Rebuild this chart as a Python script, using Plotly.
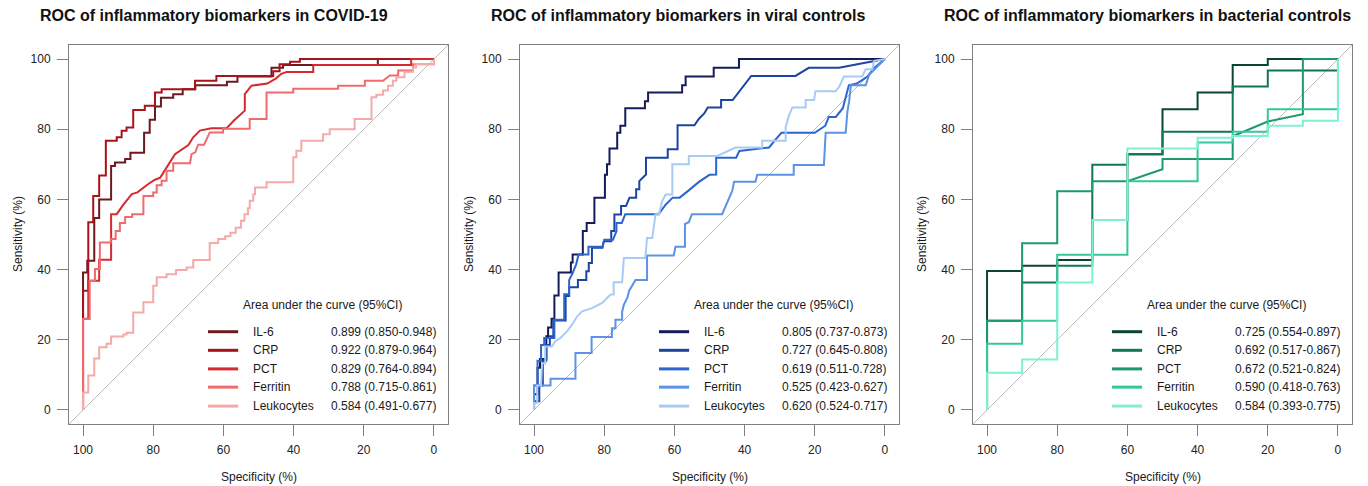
import plotly.graph_objects as go

# ---------------- data ----------------
MARKERS = ["IL-6", "CRP", "PCT", "Ferritin", "Leukocytes"]
TITLES = [
    "ROC of inflammatory biomarkers in COVID-19",
    "ROC of inflammatory biomarkers in viral controls",
    "ROC of inflammatory biomarkers in bacterial controls",
]
TICKS = [0, 20, 40, 60, 80, 100]
LEGEND_HEADER = "Area under the curve (95%CI)"

AUC_COVID = ["0.899 (0.850-0.948)", "0.922 (0.879-0.964)", "0.829 (0.764-0.894)",
             "0.788 (0.715-0.861)", "0.584 (0.491-0.677)"]
AUC_VIRAL = ["0.805 (0.737-0.873)", "0.727 (0.645-0.808)", "0.619 (0.511-0.728)",
             "0.525 (0.423-0.627)", "0.620 (0.524-0.717)"]
AUC_BACT = ["0.725 (0.554-0.897)", "0.692 (0.517-0.867)", "0.672 (0.521-0.824)",
            "0.590 (0.418-0.763)", "0.584 (0.393-0.775)"]

COLORS_COVID = ["#6b1a1f", "#a8121a", "#d62a30", "#ef6b6d", "#f5a9a9"]
COLORS_VIRAL = ["#141d5a", "#1c45a0", "#2b66cf", "#5c93e5", "#a8cbf5"]
COLORS_BACT = ["#0c4630", "#137653", "#1c9a6c", "#35c79a", "#80f0d4"]

# (specificity %, sensitivity %) vertices of each ROC curve
COVID_IL6 = [(100, 0), (100, 39.2), (98.8, 39.2), (98.8, 42.5), (96.8, 42.5), (96.8, 54.7), (95.4, 54.7),
             (95.4, 60), (92, 60), (92, 69.5), (90.9, 69.5), (90.9, 70.5), (88, 70.5), (88, 71.5),
             (86.5, 71.5), (86.5, 73.3), (82.6, 73.3), (82.6, 79), (81, 79), (81, 82.7), (79.5, 82.7),
             (79.5, 86.5), (77.8, 86.5), (77.8, 89), (74.3, 89), (74.3, 90), (71.6, 90), (71.6, 91.4),
             (68, 91.4), (68, 92.5), (59, 92.5), (59, 93.5), (56, 93.5), (56, 95), (46.3, 95),
             (46.3, 97.5), (43, 97.5), (43, 98.3), (16, 98.3), (16, 100), (0, 100)]
COVID_CRP = [(100, 0), (100, 34), (98.5, 34), (98.5, 53.5), (97.1, 53.5), (97.1, 61), (95.4, 61),
             (95.4, 66.8), (93.5, 66.8), (93.5, 76.7), (90.4, 76.7), (90.4, 77.7), (89, 77.7), (89, 79.6),
             (87.6, 79.6), (87.6, 80.5), (85.7, 80.5), (85.7, 85.5), (82.4, 85.5), (82.4, 86.7),
             (79.5, 86.7), (79.5, 90.5), (77.6, 90.5), (77.6, 91.4), (68.1, 91.4), (68.1, 93.8),
             (62, 93.8), (62, 95.2), (45.8, 95.2), (45.8, 96.5), (44, 96.5), (44, 98.5), (41, 98.5),
             (41, 99.2), (38.2, 99.2), (38.2, 100), (0, 100)]
COVID_PCT = [(100, 0), (100, 26), (98.5, 26), (98.5, 36.8), (95.4, 36.8), (95.4, 42.8), (92, 42.8),
             (92, 55.8), (90.4, 55.8), (88.5, 58.5), (86.1, 61.5), (84.5, 62), (81.4, 64.4), (79.5, 65.6),
             (78, 66.2), (73.8, 72.9), (70, 75.5), (68.6, 77.7), (66.7, 79.6), (63.4, 80.3), (59.1, 80.3),
             (57, 82.5), (53.9, 85.3), (53.9, 90), (52, 92.4), (47.5, 93), (45, 94.5), (43.5, 95.8),
             (42, 96.3), (34.4, 96.3), (34.4, 98.3), (6.5, 98.3), (6.5, 100), (0, 100)]
COVID_FER = [(100, 0), (100, 25.9), (98.1, 25.9), (98.1, 36.8), (96.6, 36.8), (96.6, 40.2), (95.2, 40.2),
             (95.2, 47.7), (92.1, 47.7), (92.1, 48.7), (90.7, 48.7), (90.7, 51), (89.5, 51), (89.5, 53.3),
             (88, 53.3), (88, 55), (86, 55), (86, 55.8), (82.8, 55.8), (82.8, 61), (80, 61), (80, 62),
             (79, 62), (79, 64), (77.6, 64), (77.6, 65.3), (76.2, 65.3), (76.2, 68.2), (74.3, 68.2),
             (74.3, 70.3), (69.5, 70.3), (69.1, 72.9), (68, 73.4), (67.2, 75.6), (65.5, 75.6),
             (63.9, 79.1), (60.1, 79.1), (60.1, 80.1), (52.5, 80.1), (52.5, 82.9), (47.7, 82.9),
             (47.7, 90.5), (40.1, 90.5), (40.1, 91.5), (27.3, 91.5), (27.3, 92.4), (19.7, 92.4),
             (19.7, 93.8), (14.5, 93.8), (12.6, 95.3), (10.2, 95.3), (10.2, 96.7), (6, 96.7), (6, 98.5),
             (0, 98.5), (0, 100)]
COVID_LEU = [(100, 0), (100, 5), (98.5, 5), (98.5, 9.8), (96.8, 9.8), (96.8, 14.7), (95.4, 14.7),
             (95.4, 17.9), (93.3, 17.9), (93.3, 18.9), (92, 18.9), (92, 20.9), (88.5, 20.9), (88.5, 21.5),
             (87.6, 21.5), (87.6, 22), (85.7, 22), (85.7, 27.8), (82.8, 27.8), (82.8, 30.7), (80, 30.7),
             (80, 35.4), (79, 35.4), (79, 37.8), (76.2, 37.8), (76.2, 38.7), (73.5, 38.7), (73.5, 39.9),
             (70.5, 39.9), (70.5, 40.6), (68.6, 40.6), (68.6, 42.7), (63.9, 42.7), (63.9, 47.6),
             (61.5, 47.6), (61.5, 48.7), (59.5, 48.7), (59.5, 49.5), (58, 49.5), (58, 50.5), (56.5, 50.5),
             (56.5, 51.9), (55, 51.9), (55, 53.9), (54, 53.9), (54, 55.8), (53, 55.8), (53, 57.5),
             (52.5, 57.5), (52.5, 59.6), (51.5, 59.6), (51.5, 61.5), (51, 61.5), (51, 63.4), (47.7, 63.4),
             (47.7, 64.9), (40.1, 64.9), (40.1, 72), (39.2, 72), (39.2, 73.9), (37.8, 73.9), (37.8, 76.7),
             (31.6, 76.7), (31.6, 78.6), (29.7, 78.6), (29.7, 80), (22.6, 80), (22.6, 82.9), (17.8, 82.9),
             (17.8, 89.1), (16.4, 89.1), (16.4, 89.8), (14.5, 89.8), (14.5, 91), (13.1, 91), (13.1, 92.4),
             (11.7, 92.4), (11.7, 93.8), (10.7, 93.8), (10.7, 94.8), (8.4, 94.8), (8.4, 96.4), (6, 96.4),
             (6, 97.6), (5.1, 97.6), (5.1, 98.6), (0, 98.6), (0, 100)]

VIR_IL6 = [(100, 0), (100, 4.5), (99, 4.5), (99, 12), (98.3, 12), (98.3, 14.5), (96.5, 14.5), (96.5, 21),
           (96, 21), (96, 23.5), (95, 23.5), (95, 26), (94.2, 26), (94.2, 32.6), (93, 32.6), (93, 39.2),
           (89.5, 39.2), (89.5, 42), (89, 42), (89, 44.3), (86.1, 44.3), (86.1, 51), (85, 51), (85, 53.3),
           (82.8, 53.3), (82.8, 60.5), (79.8, 60.5), (79.8, 67), (79.2, 67), (79.2, 70), (78.5, 70),
           (78.5, 74.5), (76.3, 74.5), (76.3, 79), (75.4, 79), (75.4, 81), (74, 81), (74, 86), (68.4, 86),
           (68.4, 88), (67.5, 88), (67.5, 90.5), (57.8, 90.5), (57.8, 92.5), (56.8, 92.5), (56.8, 95),
           (48.8, 95), (48.8, 97.5), (41.6, 97.5), (41.6, 100), (0, 100)]
VIR_CRP = [(100, 0), (100, 2.5), (98.5, 2.5), (98.5, 7), (97.5, 7), (97.5, 14), (96.5, 14), (96.5, 18.5),
           (95.5, 18.5), (95.5, 21), (94.5, 21), (94.5, 25.5), (91, 25.5), (91, 32.5), (90, 32.5), (90, 35),
           (87.5, 35), (87.5, 37), (85.1, 37), (85.1, 39.5), (84.4, 39.5), (84.4, 41.9), (83.5, 41.9),
           (83.5, 46.2), (80.5, 46.2), (80.1, 48.1), (78, 48.1), (78, 51), (77.1, 51), (77.1, 55.7),
           (75.2, 55.7), (75.2, 58.1), (73.8, 58.1), (72.8, 60.5), (70.9, 60.5), (70.9, 62.9), (70, 62.9),
           (70, 65.2), (68.1, 67.1), (68.1, 71.9), (61.9, 71.9), (61.9, 74.3), (59.1, 74.3), (59.1, 81.1),
           (54.3, 81.1), (53, 83), (51.5, 84.5), (50.5, 86.2), (46.7, 86.2), (46.7, 88.3), (43.4, 88.3),
           (41, 91.5), (38.1, 95.2), (25.5, 95.2), (21.7, 97.5), (13.1, 97.5), (3.1, 99.5), (0, 100)]
VIR_PCT = [(100, 0), (100, 7), (99, 7), (99, 14), (98, 14), (98, 18.5), (97.1, 18.5), (97.1, 20.5),
           (94.2, 20.5), (94.2, 25.7), (91.4, 25.7), (91.4, 33), (90, 33), (90, 37), (89, 39), (88, 41.5),
           (87.3, 44.3), (84.5, 44.3), (84.5, 46.5), (80.5, 46.5), (80, 48.5), (77.5, 48.5), (76.5, 51),
           (76.5, 53.3), (75, 53.3), (74, 55.8), (64.5, 55.8), (62.5, 58.5), (60.5, 60.5), (58.5, 60.5),
           (56, 62.5), (53, 65), (50, 67), (48.1, 67.1), (48.1, 71.9), (42.4, 71.9), (41.5, 73.8),
           (33, 74.8), (31.5, 76.7), (29.5, 79), (20, 79), (17, 81), (16, 83.5), (14, 83.5), (12, 86),
           (11, 90), (10.3, 92.5), (8, 93), (5, 95), (3, 97.5), (0, 100)]
VIR_FER = [(100, 0), (100, 7), (95.3, 7), (95.3, 8.9), (88.2, 8.9), (88.2, 16.2), (83.6, 16.2),
           (83.6, 20.8), (77.8, 20.8), (77.8, 23.3), (76.8, 23.3), (76.8, 25.7), (74.9, 25.7), (74.9, 28),
           (74.4, 30), (73.4, 32), (72.9, 34), (71.1, 37), (67.8, 37), (67.8, 44), (60.2, 44), (59.7, 46.5),
           (57, 46.5), (57, 53), (55.9, 53.5), (55, 55.8), (46.4, 55.8), (45.5, 58), (43.5, 62.5), (43, 65),
           (36.9, 65), (36.4, 67), (26, 67), (26, 69.8), (17.4, 69.8), (16.9, 79), (11.2, 79), (10.7, 85),
           (10.2, 88), (9.7, 92.5), (5.5, 92.5), (4.5, 95.5), (2.5, 97.5), (0, 100)]
VIR_LEU = [(100, 0), (100, 2), (99.1, 2), (99.1, 7), (98, 7), (97.7, 13.3), (96.8, 13.3), (96.8, 18.1),
           (94.9, 18.1), (94, 19.5), (92.5, 20.5), (90.6, 22.4), (89.2, 24.3), (87.7, 26.7), (86.3, 28.1),
           (83.5, 29), (80.6, 30.5), (78.2, 32.9), (77.3, 32.9), (77.3, 36.4), (74.9, 36.4), (74.4, 43.3),
           (68.3, 43.3), (67.8, 49), (66.3, 49), (65.4, 55.7), (64.4, 55.7), (63.5, 59.5), (62.5, 61.4),
           (60.6, 61.4), (60.6, 70), (55.9, 70), (55.9, 72.4), (47.8, 72.4), (42.6, 74.8), (35, 74.8),
           (35, 76.7), (28.3, 76.7), (28.3, 80.5), (27.4, 83.8), (26.4, 86.2), (22.6, 86.2), (22.6, 88.3),
           (20.2, 88.3), (19.8, 90.8), (14.1, 90.8), (13.1, 92), (11.7, 95), (6.5, 95), (5.5, 97.1),
           (3.6, 97.1), (3.1, 99.5), (0, 100)]

BAC_IL6 = [(100, 0), (100, 39.6), (90, 39.6), (90, 41.1), (80, 41.1), (80, 42.7), (70, 42.7), (70, 54.1),
           (60, 54.1), (60, 72.9), (50, 72.9), (50, 85.7), (40, 85.7), (40, 90.5), (30, 90.5), (30, 98.3),
           (20, 98.3), (20, 100), (0, 100)]
BAC_CRP = [(100, 0), (100, 25.4), (90, 25.4), (90, 36.3), (80, 36.3), (80, 41.1), (70, 41.1), (70, 69.9),
           (60, 69.9), (60, 72.9), (50, 72.9), (50, 79.3), (30, 79.3), (30, 92.2), (20, 92.2), (20, 96.7),
           (0, 96.7), (0, 100)]
BAC_PCT = [(100, 0), (100, 25.4), (90, 25.4), (90, 47.5), (80, 47.5), (80, 62.3), (70, 62.3), (70, 65.2),
           (60, 65.2), (50, 68.6), (50, 71.5), (30, 71.5), (30, 78), (20, 82.2), (10, 84.3), (10, 100),
           (0, 100)]
BAC_FER = [(100, 0), (100, 18.9), (90, 18.9), (90, 25.4), (80, 25.4), (80, 44.2), (60, 44.2), (60, 65.2),
           (40, 65.2), (40, 76.2), (30, 76.2), (30, 79.3), (20, 79.3), (20, 85.7), (0, 85.7), (0, 100)]
BAC_LEU = [(100, 0), (100, 10.6), (90, 10.6), (90, 14.4), (80, 14.4), (80, 36.3), (70, 36.3), (70, 54.1),
           (60, 54.1), (60, 74.5), (40, 74.5), (40, 77.6), (30, 77.6), (30, 78.1), (20, 78.1), (20, 81),
           (10, 81), (10, 82.4), (0, 82.4), (0, 100)]

PANELS = [
    (TITLES[0], [COVID_IL6, COVID_CRP, COVID_PCT, COVID_FER, COVID_LEU], COLORS_COVID, AUC_COVID),
    (TITLES[1], [VIR_IL6, VIR_CRP, VIR_PCT, VIR_FER, VIR_LEU], COLORS_VIRAL, AUC_VIRAL),
    (TITLES[2], [BAC_IL6, BAC_CRP, BAC_PCT, BAC_FER, BAC_LEU], COLORS_BACT, AUC_BACT),
]

# ---------------- layout geometry (pixels) ----------------
W, H = 1368, 486
BOX_LEFT = [69, 520, 973]
BOX_W = 379
BOX_TOP, BOX_BOTTOM = 45, 424
FONT = "Liberation Sans, Arial, sans-serif"
TXT = "#1a1a1a"
FRAME = "#808080"

fig = go.Figure()
layout = dict(
    width=W, height=H, autosize=False,
    margin=dict(l=0, r=0, t=0, b=0),
    paper_bgcolor="white", plot_bgcolor="white",
    showlegend=False,
    font=dict(family=FONT, size=12, color=TXT),
)
annotations = []
shapes = []

LEG_Y = [22.3, 17.0, 11.7, 6.5, 1.1]

for i, (title, curves, colors, aucs) in enumerate(PANELS):
    sfx = "" if i == 0 else str(i + 1)
    xr, yr = "x" + sfx, "y" + sfx
    x0 = BOX_LEFT[i] / W
    x1 = (BOX_LEFT[i] + BOX_W) / W
    y0 = 1 - BOX_BOTTOM / H
    y1 = 1 - BOX_TOP / H
    axis_common = dict(
        showgrid=False, zeroline=False, showline=True, linecolor=FRAME, linewidth=1, mirror=True,
        ticks="outside", ticklen=11, tickwidth=1, tickcolor=FRAME,
        tickvals=TICKS, ticktext=[str(t) for t in TICKS],
        tickfont=dict(family=FONT, size=12, color="#222"),
    )
    layout["xaxis" + sfx] = dict(axis_common, domain=[x0, x1], range=[104, -4], anchor=yr,
                                 ticklabelstandoff=4)
    layout["yaxis" + sfx] = dict(axis_common, domain=[y0, y1], range=[-4, 104], anchor=xr,
                                 ticklabelstandoff=4)

    # diagonal reference line across the whole box
    shapes.append(dict(type="line", xref=xr, yref=yr, x0=104, y0=-4, x1=-4, y1=104,
                       line=dict(color="#bdbdbd", width=1), layer="below"))

    for name, pts, col in zip(MARKERS, curves, colors):
        fig.add_trace(go.Scatter(
            x=[p[0] for p in pts], y=[p[1] for p in pts], mode="lines", name=name,
            line=dict(color=col, width=2), xaxis=xr, yaxis=yr, hoverinfo="skip"))

    # legend (header, keys, names, values)
    annotations.append(dict(text=LEGEND_HEADER, xref=xr, yref=yr, x=55, y=30.0, xanchor="left",
                            yanchor="middle", showarrow=False, font=dict(size=12, color=TXT)))
    for k, (name, col, auc) in enumerate(zip(MARKERS, colors, aucs)):
        shapes.append(dict(type="line", xref=xr, yref=yr, x0=64.4, x1=55.8, y0=LEG_Y[k], y1=LEG_Y[k],
                           line=dict(color=col, width=3)))
        annotations.append(dict(text=name, xref=xr, yref=yr, x=52.2, y=LEG_Y[k], xanchor="left",
                                yanchor="middle", showarrow=False, font=dict(size=12, color=TXT)))
        annotations.append(dict(text=auc, xref=xr, yref=yr, x=29.8, y=LEG_Y[k], xanchor="left",
                                yanchor="middle", showarrow=False, font=dict(size=12, color=TXT)))

    # panel title
    annotations.append(dict(text="<b>" + title + "</b>", xref="paper", yref="paper",
                            x=(BOX_LEFT[i] - 31) / W, y=1 - 15 / H, xanchor="left", yanchor="middle",
                            showarrow=False, font=dict(size=16, color="#111")))
    # axis titles
    annotations.append(dict(text="Specificity (%)", xref="paper", yref="paper",
                            x=(BOX_LEFT[i] + BOX_W / 2) / W, y=1 - 477 / H, xanchor="center",
                            yanchor="middle", showarrow=False, font=dict(size=12, color=TXT)))
    annotations.append(dict(text="Sensitivity (%)", xref="paper", yref="paper",
                            x=(BOX_LEFT[i] - 51) / W, y=1 - 234 / H, xanchor="center",
                            yanchor="middle", textangle=-90, showarrow=False,
                            font=dict(size=12, color=TXT)))

layout["annotations"] = annotations
layout["shapes"] = shapes
fig.update_layout(**layout)
fig.write_html("out.html", config={"displayModeBar": False})
